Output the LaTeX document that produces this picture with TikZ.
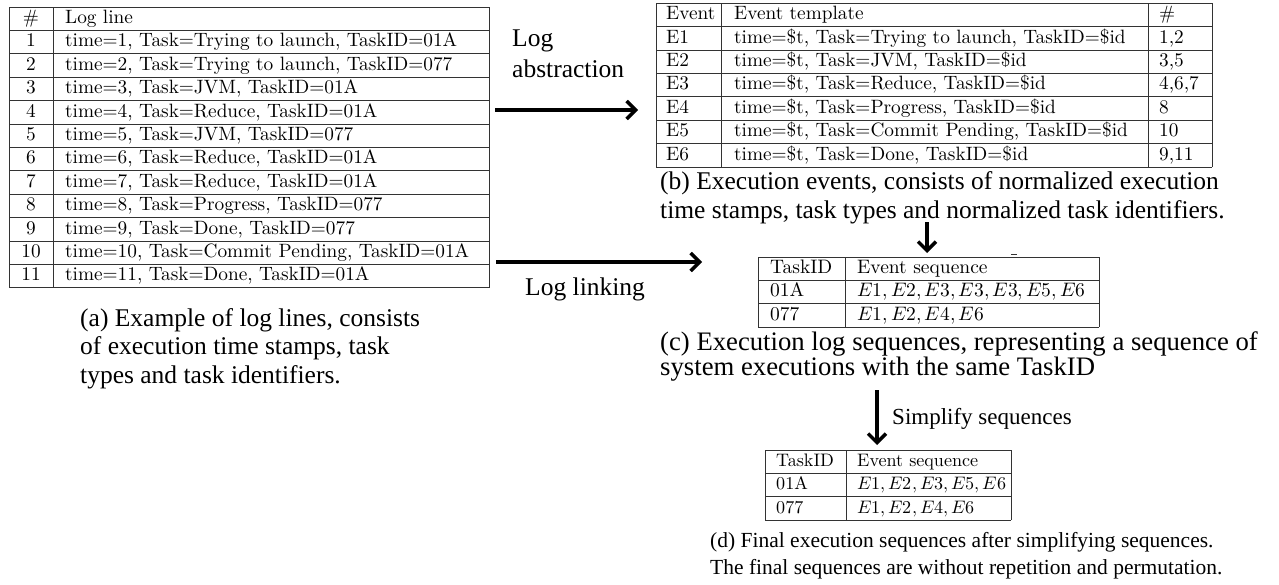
\documentclass[tikz,border=0pt]{standalone}
\usepackage{unicode-math}
\setmathfont{Latin Modern Math}
\newfontfamily\capfont{Liberation Serif}
\newfontfamily\tabfont{lmroman10-regular}[Extension=.otf]
\usetikzlibrary{arrows.meta}
\tikzset{
  tbl/.style={font=\tabfont\fontsize{19.3}{23.2}\selectfont, anchor=base west, inner sep=0pt},
  tblc/.style={tbl, anchor=base},
  tblC/.style={tbl, font=\tabfont\fontsize{19.5}{23.2}\selectfont},
  tblD/.style={tbl, font=\tabfont\fontsize{18.1}{23.2}\selectfont},
  gridline/.style={draw=black!80, line width=1pt},
  captext/.style={font=\capfont\fontsize{25.5}{28.5}\selectfont, anchor=base west, inner sep=0pt},
  captextC/.style={captext, font=\capfont\fontsize{26.7}{29}\selectfont},
  captextD/.style={captext, font=\capfont\fontsize{21.5}{25}\selectfont},
  simplab/.style={captext, font=\capfont\fontsize{23}{27}\selectfont},
  flow/.style={line width=3.5pt, -{Straight Barb[length=9pt,width=18pt]}},
}
\begin{document}
\begin{tikzpicture}[x=1pt,y=-1pt]
\useasboundingbox (0,0) rectangle (1279,584);

% ---------- table (a) ----------
\foreach \k in {0,...,12} \draw[gridline] (9,{7+23.4*\k}) -- (489,{7+23.4*\k});
\draw[gridline] (9,7) -- (9,287.8) (53,7) -- (53,287.8) (489,7) -- (489,287.8);
\node[tblc] (ah0) at (31,23.4) {\#};
\node[tbl] (ah1) at (65,23.4) {Log line};
\foreach \i/\t in {1/{time=1, Task=Trying to launch, TaskID=01A},
                   2/{time=2, Task=Trying to launch, TaskID=077},
                   3/{time=3, Task=JVM, TaskID=01A},
                   4/{time=4, Task=Reduce, TaskID=01A},
                   5/{time=5, Task=JVM, TaskID=077},
                   6/{time=6, Task=Reduce, TaskID=01A},
                   7/{time=7, Task=Reduce, TaskID=01A},
                   8/{time=8, Task=Progress, TaskID=077},
                   9/{time=9, Task=Done, TaskID=077},
                   10/{time=10, Task=Commit Pending, TaskID=01A},
                   11/{time=11, Task=Done, TaskID=01A}} {
  \node[tblc] (an\i) at (31,{7+23.4*\i+16.4}) {\i};
  \node[tbl] (al\i) at (65,{7+23.4*\i+16.4}) {\t};
}
\node[captext] (capa1) at (80,326) {(a) Example of log lines, consists};
\node[captext] (capa2) at (80,354.5) {of execution time stamps, task};
\node[captext] (capa3) at (80,383) {types and task identifiers.};

% ---------- table (b) ----------
\foreach \k in {0,...,7} \draw[gridline] (656,{3.3+23.4*\k}) -- (1212,{3.3+23.4*\k});
\draw[gridline] (656,3.3) -- (656,167.1) (721,3.3) -- (721,167.1)
                (1148,3.3) -- (1148,167.1) (1212,3.3) -- (1212,167.1);
\node[tbl] (bh0) at (666,19.7) {Event};
\node[tbl] (bh1) at (734,19.7) {Event template};
\node[tbl] (bh2) at (1159,19.7) {\#};
\foreach \i/\t/\n in {1/{time=\$t, Task=Trying to launch, TaskID=\$id}/{1,2},
                      2/{time=\$t, Task=JVM, TaskID=\$id}/{3,5},
                      3/{time=\$t, Task=Reduce, TaskID=\$id}/{4,6,7},
                      4/{time=\$t, Task=Progress, TaskID=\$id}/{8},
                      5/{time=\$t, Task=Commit Pending, TaskID=\$id}/{10},
                      6/{time=\$t, Task=Done, TaskID=\$id}/{9,11}} {
  \node[tbl] (be\i) at (666,{3.3+23.4*\i+16.4}) {E\i};
  \node[tbl] (bt\i) at (734,{3.3+23.4*\i+16.4}) {\t};
  \node[tbl] (bn\i) at (1159,{3.3+23.4*\i+16.4}) {\n};
}
\node[captext] (capb1) at (660,189) {(b) Execution events, consists of normalized execution};
\node[captext] (capb2) at (660,218) {time stamps, task types and normalized task identifiers.};

% ---------- table (c) ----------
\foreach \k in {0,...,3} \draw[gridline] (758,{257+23.4*\k}) -- (1099,{257+23.4*\k});
\draw[gridline] (758,257) -- (758,327.2) (845,257) -- (845,327.2) (1099,257) -- (1099,327.2);
\node[tblC] (ch0) at (770,273.4) {TaskID};
\node[tblC] (ch1) at (857,273.4) {Event sequence};
\node[tblC] (c10) at (770,296.8) {01A};
\node[tblC] (c11) at (857,296.8) {$E1, E2, E3, E3, E3, E5, E6$};
\node[tblC] (c20) at (770,320.2) {077};
\node[tblC] (c21) at (857,320.2) {$E1, E2, E4, E6$};
\node[captextC] (capc1) at (660,350) {(c) Execution log sequences, representing a sequence of};
\node[captextC] (capc2) at (660,375) {system executions with the same TaskID};
\coordinate (markA) at (1011,254.5);
\coordinate (markB) at (1017,254.5);
\draw[gridline] (markA) -- (markB);

% ---------- table (d) ----------
\foreach \k in {0,...,3} \draw[gridline] (765,{450+23.4*\k}) -- (1011,{450+23.4*\k});
\draw[gridline] (765,450) -- (765,520.2) (846,450) -- (846,520.2) (1011,450) -- (1011,520.2);
\node[tblD] (dh0) at (776,466.4) {TaskID};
\node[tblD] (dh1) at (857,466.4) {Event sequence};
\node[tblD] (d10) at (776,489.8) {01A};
\node[tblD] (d11) at (857,489.8) {$E1, E2, E3, E5, E6$};
\node[tblD] (d20) at (776,513.2) {077};
\node[tblD] (d21) at (857,513.2) {$E1, E2, E4, E6$};
\node[captextD] (capd1) at (710,547) {(d) Final execution sequences after simplifying sequences.};
\node[captextD] (capd2) at (710,574) {The final sequences are without repetition and permutation.};

% ---------- arrows and labels ----------
\coordinate (abS) at (495,110);
\coordinate (abE) at (638,110);
\coordinate (liS) at (496,262);
\coordinate (liE) at (702,262);
\coordinate (d1S) at (927,222);
\coordinate (d1E) at (927,253);
\coordinate (d2S) at (877,390);
\coordinate (d2E) at (877,445);
\draw[flow] (abS) -- (abE);
\draw[flow] (liS) -- (liE);
\draw[flow] (d1S) -- (d1E);
\draw[flow] (d2S) -- (d2E);
\node[captext] (lab1) at (512,46) {Log};
\node[captext] (lab2) at (512,77) {abstraction};
\node[captext] (llink) at (525,295) {Log linking};
\node[simplab] (lsimp) at (892,424) {Simplify sequences};
\end{tikzpicture}
\end{document}
